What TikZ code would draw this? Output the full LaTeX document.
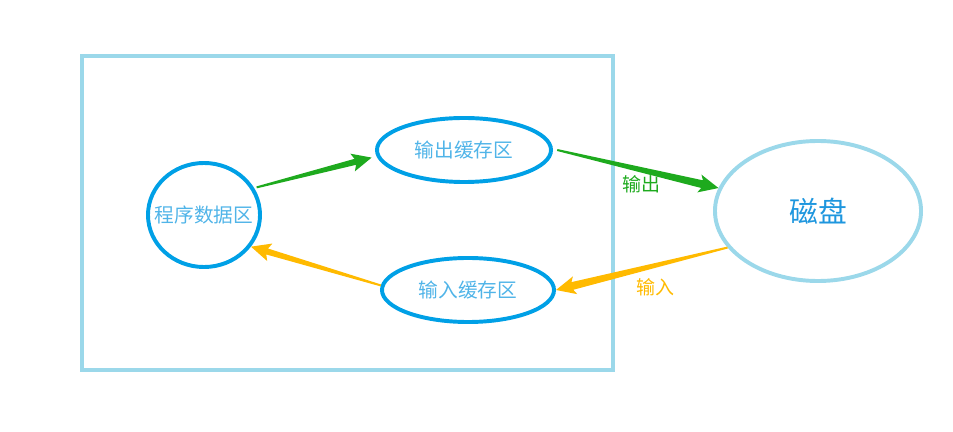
\documentclass[tikz,border=0pt]{standalone}
\usepackage{fontspec}
\setmainfont{Noto Sans CJK SC}
\usepackage{xcolor}
\usetikzlibrary{shapes.geometric, calc, positioning}
\definecolor{framecyan}{RGB}{155, 216, 234}
\definecolor{ringblue}{RGB}{0, 160, 230}
\definecolor{textblue}{RGB}{80, 180, 232}
\definecolor{diskblue}{RGB}{30, 150, 222}
\definecolor{outgreen}{RGB}{30, 170, 30}
\definecolor{inyellow}{RGB}{255, 186, 0}

\tikzset{
  bufnode/.style={ellipse, draw=ringblue, line width=2.8pt, inner sep=0pt,
                  text=textblue, font=\fontsize{14pt}{16pt}\selectfont},
  flowlabel/.style={inner sep=0pt, font=\fontsize{13.5pt}{15pt}\selectfont}
}

% tapered arrow: start, end, colour, half width of the shaft at the head
\newcommand{\taperarrow}[4]{%
  \path ($(#2)!12pt!(#1)$) coordinate (hb) ($(#2)!14pt!(#1)$) coordinate (hc);
  \fill[#3] ($(#1)!0.7pt!90:(#2)$) -- ($(hb)!#4!-90:(#1)$) -- ($(hc)!6.5pt!-90:(#1)$)
    -- (#2) -- ($(hc)!6.5pt!90:(#1)$) -- ($(hb)!#4!90:(#1)$) -- ($(#1)!0.7pt!-90:(#2)$) -- cycle;
}

\begin{document}
\begin{tikzpicture}[x=0.025cm, y=-0.025cm]
  \useasboundingbox (0,0) rectangle (953,432);

  % memory area
  \node[draw=framecyan, line width=2.8pt, minimum width=13.275cm, minimum height=7.85cm,
        inner sep=0pt] (mem) at (347.5,213) {};

  \node[bufnode, inner xsep=-8pt, minimum width=2.8cm, minimum height=2.6cm] (prog) at (204,215) {程序数据区};
  \node[bufnode, minimum width=4.35cm, minimum height=1.6cm] (outbuf) at (464,150) {输出缓存区};
  \node[bufnode, minimum width=4.3cm, minimum height=1.6cm] (inbuf) at (468,290) {输入缓存区};

  \node[ellipse, draw=framecyan, line width=2.8pt, inner sep=0pt, minimum width=5.15cm,
        minimum height=3.5cm, text=diskblue, font=\fontsize{20.5pt}{22pt}\selectfont]
        (disk) at (818,211) {磁盘};

  % flows
  \coordinate (o1s) at ([xshift=2pt]prog.29);
  \coordinate (o1e) at ([xshift=-4pt]outbuf.185);
  \coordinate (o2s) at ([xshift=3pt]outbuf.0);
  \coordinate (o2e) at (disk.167);
  \coordinate (i1s) at (disk.202);
  \coordinate (i1e) at (inbuf.0);
  \coordinate (i2s) at (inbuf.177);
  \coordinate (i2e) at (prog.326);

  \taperarrow{o1s}{o1e}{outgreen}{2.2pt}
  \taperarrow{o2s}{o2e}{outgreen}{2.8pt}
  \taperarrow{i1s}{i1e}{inyellow}{2.8pt}
  \taperarrow{i2s}{i2e}{inyellow}{2.2pt}

  \node[flowlabel, text=outgreen] (outlbl) at (641,184) {输出};
  \node[flowlabel, text=inyellow] (inlbl) at (655,287) {输入};
\end{tikzpicture}
\end{document}
